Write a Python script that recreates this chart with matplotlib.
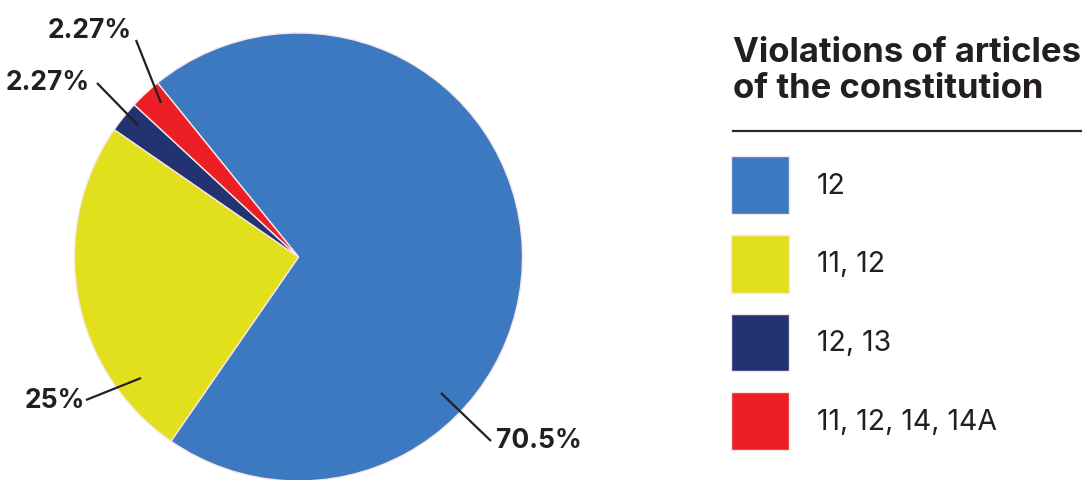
import matplotlib
matplotlib.use("Agg")
import matplotlib.pyplot as plt
from matplotlib.lines import Line2D

categories = ["12", "11, 12", "12, 13", "11, 12, 14, 14A"]
values = [70.5, 25.0, 2.27, 2.27]
pct_labels = ["70.5%", "25%", "2.27%", "2.27%"]
colors = ["#3d79c0", "#e2e01c", "#233270", "#ec1f27"]
title_text = "Violations of articles\nof the constitution"

W, H = 1082, 480
fig = plt.figure(figsize=(W / 100, H / 100), dpi=100)
ax = fig.add_axes([0, 0, 1, 1])

cx, cy, r = 298.5, H - 257, 224
wedges, _ = ax.pie(values, colors=colors, startangle=129, counterclock=False,
                   center=(cx, cy), radius=r, frame=True,
                   wedgeprops=dict(edgecolor="#f6e6e6", linewidth=1.0))
ax.set_xlim(0, W)
ax.set_ylim(0, H)
ax.set_aspect("equal")
ax.axis("off")

txtc = "#231f20"
fam = ["Inter", "DejaVu Sans"]
leaders = [
    ((441, 393), (491, 441), (496, 441), "left"),
    ((141, 378), (86, 400), (85, 401), "right"),
    ((138, 125), (97, 83), (90, 83), "right"),
    ((161, 103), (136, 40), (132, 31), "right"),
]
for lab, (p0, p1, tp, ha) in zip(pct_labels, leaders):
    ax.plot([p0[0], p1[0]], [H - p0[1], H - p1[1]], color=txtc, lw=1.6,
            solid_capstyle="butt")
    ax.text(tp[0], H - tp[1], lab, ha=ha, va="center", fontsize=19,
            fontweight="bold", color=txtc, family=fam)

fig.text(733 / W, 1 - 71 / H, title_text, ha="left", va="center",
         fontsize=25, fontweight="bold", color=txtc, family=fam,
         linespacing=1.12)
fig.add_artist(Line2D([733 / W, 1.0], [1 - 131 / H, 1 - 131 / H],
                      color="#2a2a2a", lw=1.6, transform=fig.transFigure))

fs = 20.5
leg = fig.legend(wedges, categories, loc="upper left",
                 bbox_to_anchor=(717 / W, 1 - 142 / H), frameon=False,
                 prop=dict(family=fam, size=fs), handlelength=58 / (fs * 100 / 72),
                 handleheight=2.74, labelspacing=0.74, handletextpad=0.98,
                 borderpad=0, labelcolor=txtc)

fig.savefig("out.png", dpi=100, facecolor="white")
